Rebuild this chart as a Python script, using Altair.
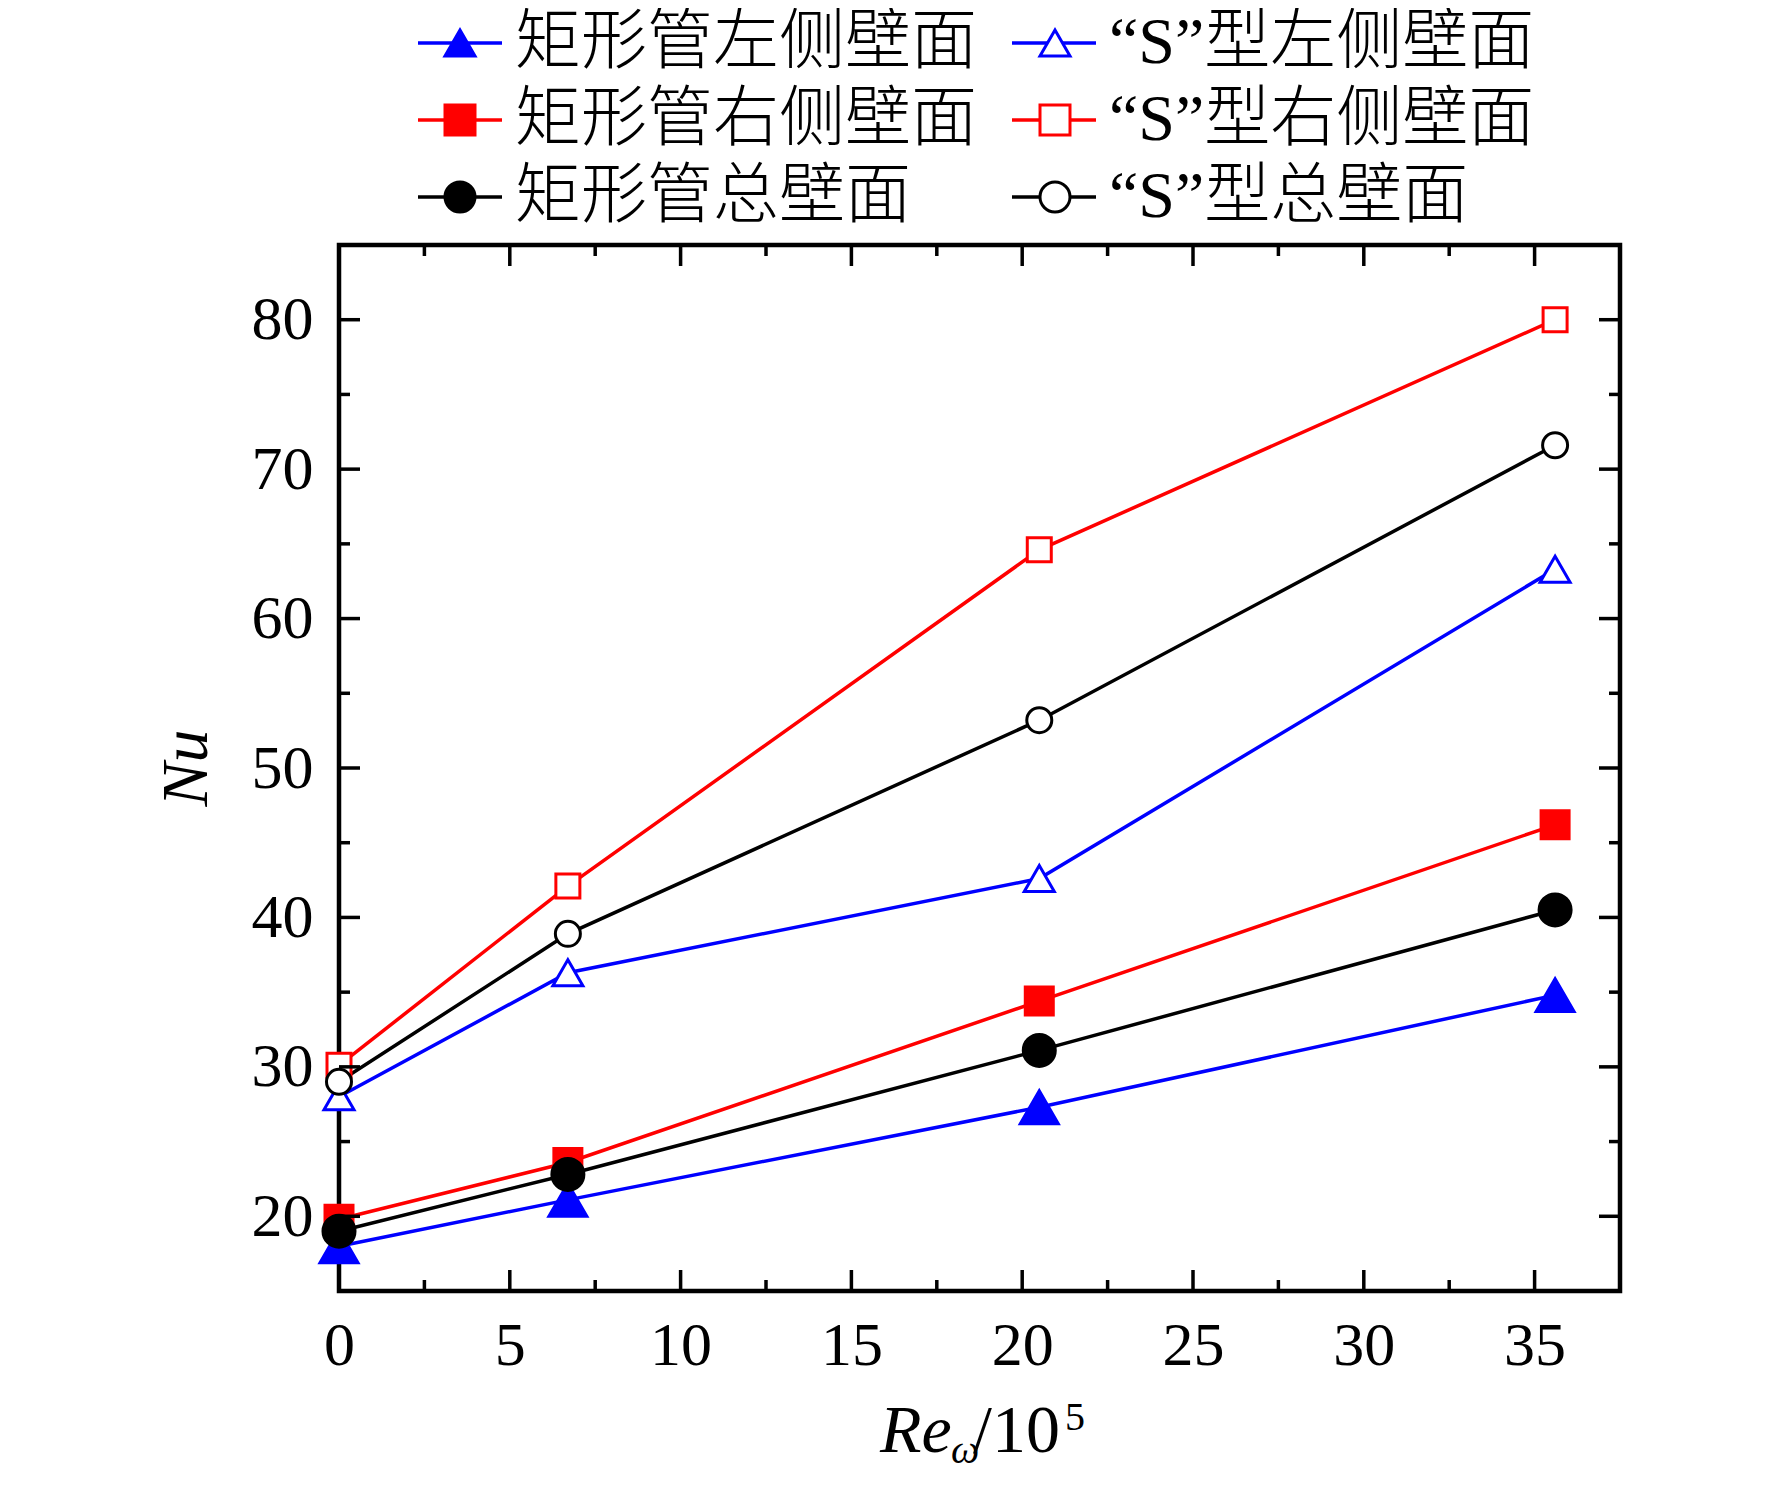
import altair as alt
import pandas as pd

# ---------------- data ----------------
re_x = [0.0, 6.7, 20.5, 35.6]
series_names = ["矩形管左侧壁面", "矩形管右侧壁面", "矩形管总壁面",
                "“S”型左侧壁面", "“S”型右侧壁面", "“S”型总壁面"]
series_keys = ["rl", "rr", "rt", "sl", "sr", "st"]
rect_left = [18.0, 21.1, 27.3, 34.8]
rect_right = [19.8, 23.6, 34.4, 46.2]
rect_total = [19.0, 22.8, 31.1, 40.5]
s_left = [28.0, 36.3, 42.6, 63.3]
s_right = [30.1, 42.1, 64.6, 80.0]
s_total = [29.0, 38.9, 53.2, 71.6]
series_values = [rect_left, rect_right, rect_total, s_left, s_right, s_total]

x_major = [0, 5, 10, 15, 20, 25, 30, 35]
x_minor = [2.5, 7.5, 12.5, 17.5, 22.5, 27.5, 32.5]
y_major = [20, 30, 40, 50, 60, 70, 80]
y_minor = [25, 35, 45, 55, 65, 75]

line_colors = ["#0000ff", "#ff0000", "#000000", "#0000ff", "#ff0000", "#000000"]
fill_colors = ["#0000ff", "#ff0000", "#000000", "#ffffff", "#ffffff", "#ffffff"]
shapes = ["triangle-up", "square", "circle", "triangle-up", "square", "circle"]
marker_sizes = [1444, 784, 1024, 900, 576, 625]

rows = []
for name, key, vals in zip(series_names, series_keys, series_values):
    for xv, yv in zip(re_x, vals):
        rows.append({"x": xv, "y": yv, "series": name, "key": key})
df = pd.DataFrame(rows)

W, H = 1281, 1046
MAJ, MIN = 21, 11
SERIF = '"Times New Roman", "Liberation Serif", Tinos, serif'
LEGEND_FONT = '"Times New Roman", "Liberation Serif", "Noto Sans CJK SC", serif'

xscale = alt.Scale(domain=[0, 37.5], nice=False, zero=False)
yscale = alt.Scale(domain=[15, 85], nice=False, zero=False)

xaxis = alt.Axis(values=x_major, title=None, labelPadding=24, labelFontSize=62,
                 labelFont=SERIF, labelColor="black", labelFlush=False,
                 tickSize=0, ticks=False, domain=False, grid=False)
yaxis = alt.Axis(values=y_major, title=None, labelPadding=26, labelFontSize=62,
                 labelFont=SERIF, labelColor="black", labelFlush=False,
                 tickSize=0, ticks=False, domain=False, grid=False)

# legend geometry
SYM = 900           # point legend symbol area (30 px wide)
LEG_X = 88
LEG_Y = -235

line_legend = alt.Legend(
    title=None, orient="none", legendX=LEG_X, legendY=LEG_Y,
    direction="vertical", columns=2, columnPadding=28, rowPadding=11,
    symbolType="M-2.8,0H2.8", symbolSize=SYM, symbolStrokeWidth=3.5,
    labelFont=LEGEND_FONT, labelFontSize=66, labelFontWeight=300, labelLimit=2000,
    labelColor="black", labelOffset=22, padding=0, zindex=1,
)
pt_legend = alt.Legend(
    title=None, orient="none", legendX=LEG_X, legendY=LEG_Y,
    direction="vertical", columns=2, columnPadding=507, rowPadding=11,
    symbolSize=SYM, symbolStrokeWidth=3,
    labelFont=LEGEND_FONT, labelFontSize=66, labelExpr="' '",
    labelOffset=22, padding=0, zindex=2,
)

lines = alt.Chart(df).mark_line(strokeWidth=3.5).encode(
    x=alt.X("x:Q", scale=xscale, axis=xaxis),
    y=alt.Y("y:Q", scale=yscale, axis=yaxis),
    color=alt.Color("series:N", scale=alt.Scale(domain=series_names, range=line_colors),
                    legend=line_legend),
)

points = alt.Chart(df).mark_point(filled=True, opacity=1, strokeWidth=3).encode(
    x=alt.X("x:Q", scale=xscale),
    y=alt.Y("y:Q", scale=yscale),
    shape=alt.Shape("key:N", scale=alt.Scale(domain=series_keys, range=shapes),
                    legend=pt_legend),
    fill=alt.Fill("key:N", scale=alt.Scale(domain=series_keys, range=fill_colors),
                  legend=pt_legend),
    stroke=alt.Stroke("key:N", scale=alt.Scale(domain=series_keys, range=line_colors),
                      legend=pt_legend),
    # size scale listed in reverse order so it is not merged with the shape legend
    size=alt.Size("key:N", scale=alt.Scale(type="ordinal", domain=series_keys[::-1],
                                           range=marker_sizes[::-1]), legend=None),
)


def xticks(vals, length, top):
    return alt.Chart(pd.DataFrame({"v": vals})).mark_rule(strokeWidth=3.5, color="black").encode(
        x=alt.X("v:Q", scale=xscale),
        y=alt.value(0 if top else H),
        y2=alt.value(length if top else H - length),
    )


def yticks(vals, length, right):
    return alt.Chart(pd.DataFrame({"v": vals})).mark_rule(strokeWidth=3.5, color="black").encode(
        y=alt.Y("v:Q", scale=yscale),
        x=alt.value(W if right else 0),
        x2=alt.value(W - length if right else length),
    )


tick_layers = [
    xticks(x_major, MAJ, False), xticks(x_minor, MIN, False),
    xticks(x_major, MAJ, True), xticks(x_minor, MIN, True),
    yticks(y_major, MAJ, False), yticks(y_minor, MIN, False),
    yticks(y_major, MAJ, True), yticks(y_minor, MIN, True),
]


def label(text, x, y, size, italic=False, angle=0, align="left"):
    kw = dict(font=SERIF, fontSize=size, color="black", align=align, baseline="alphabetic")
    if italic:
        kw["fontStyle"] = "italic"
    if angle:
        kw["angle"] = angle
    return alt.Chart(pd.DataFrame({"t": [text]})).mark_text(**kw).encode(
        text="t:N", x=alt.value(x), y=alt.value(y))


titles = [
    label("Re", 541, 1207, 68, italic=True),
    label("ω", 612, 1218, 40, italic=True),
    label("/10", 634, 1207, 68),
    label("5", 726, 1185, 40),
    label("Nu", -132, 523, 66, italic=True, angle=270, align="center"),
]

chart = alt.layer(lines, points, *tick_layers, *titles).properties(
    width=W, height=H,
    padding={"left": 331, "top": 237, "right": 130, "bottom": 180},
    autosize="none",
    background="white",
).configure_view(stroke="black", strokeWidth=4.5)

chart.save("out.html", embed_options={"renderer": "svg", "actions": False})
